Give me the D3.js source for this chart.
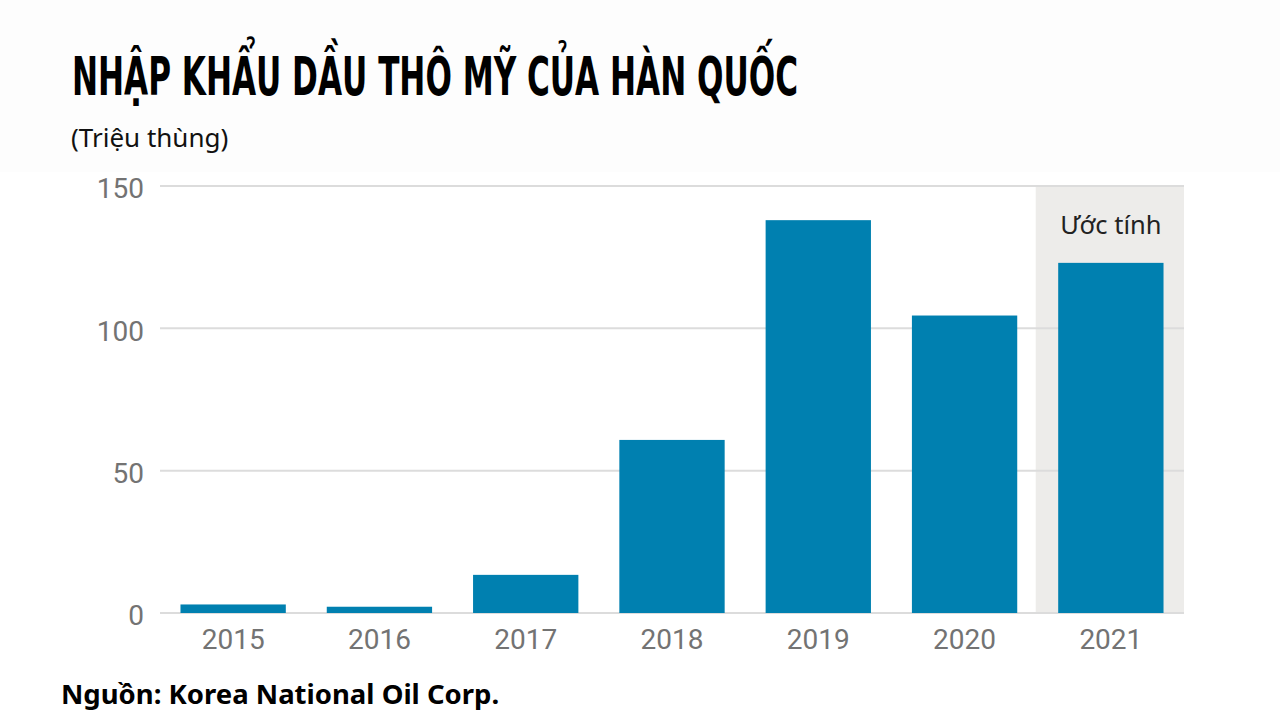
<!DOCTYPE html>
<html><head><meta charset="utf-8">
<script src="https://cdn.jsdelivr.net/npm/d3@7"></script>
<style>
html,body{margin:0;padding:0;background:#fff;}
svg{display:block;}
</style></head>
<body>
<svg id="chart" width="1280" height="720"></svg>
<script>
const years = ["2015","2016","2017","2018","2019","2020","2021"];
const values = [3, 2.2, 13.4, 60.8, 138, 104.5, 123];
const yTicks = [0, 50, 100, 150];
const estimateYear = "2021";
const titleText = "NHẬP KHẨU DẦU THÔ MỸ CỦA HÀN QUỐC";
const subtitleText = "(Triệu thùng)";
const estimateLabel = "Ước tính";
const sourceText = "Nguồn: Korea National Oil Corp.";

const svg = d3.select("#chart");
const W = 1280, H = 720;
const m = {left:160, right:96, top:186, bottom:107};
const x = d3.scaleBand().domain(years).range([m.left, W - m.right]).paddingInner(0.28).paddingOuter(0.14);
const y = d3.scaleLinear().domain([0,150]).range([H - m.bottom, m.top]);

// header background (very faint)
svg.append("rect").attr("x",0).attr("y",0).attr("width",W).attr("height",172).attr("fill","#fdfdfd");

// estimate shading
const step = x.step();
const shadeX = x(estimateYear) - x.paddingInner()*step/2 - 2;
svg.append("rect")
  .attr("x", shadeX)
  .attr("y", y(150))
  .attr("width", W - m.right - shadeX)
  .attr("height", y(0) - y(150))
  .attr("fill", "#edecea");

// gridlines
svg.append("g").selectAll("line").data(yTicks).join("line")
  .attr("x1", m.left).attr("x2", W - m.right)
  .attr("y1", d => y(d)).attr("y2", d => y(d))
  .attr("stroke", "#dcdcdc").attr("stroke-width", 2);

// y axis labels
const yAxis = d3.axisLeft(y).tickValues(yTicks).tickSize(0).tickPadding(16);
const gy = svg.append("g").attr("transform", `translate(${m.left},0)`).call(yAxis);
gy.select(".domain").remove();
gy.selectAll("text").attr("font-family","Roboto, sans-serif").attr("font-weight","400").attr("font-size","28px").attr("fill","#737373").attr("dy","0.42em");

// bars
svg.append("g").selectAll("rect").data(years).join("rect")
  .attr("x", d => x(d)).attr("width", x.bandwidth())
  .attr("y", (d,i) => y(values[i])).attr("height", (d,i) => y(0) - y(values[i]))
  .attr("fill", "#0080b0");

// x axis labels
const xAxis = d3.axisBottom(x).tickSize(0).tickPadding(16);
const gx = svg.append("g").attr("transform", `translate(0,${y(0)})`).call(xAxis);
gx.select(".domain").remove();
gx.selectAll("text").attr("font-family","Roboto, sans-serif").attr("font-weight","400").attr("font-size","28px").attr("fill","#737373");

// estimate label
svg.append("text").attr("x", x(estimateYear) + x.bandwidth()/2).attr("y", 234)
  .attr("text-anchor","middle").attr("font-family","'Noto Sans', sans-serif").attr("font-size","25.5px").attr("fill","#222")
  .text(estimateLabel);

// title
svg.append("text").attr("x", 72).attr("y", 95)
  .attr("font-family","'DejaVu Sans Condensed', 'DejaVu Sans', sans-serif").attr("font-weight","bold")
  .attr("font-size","54px").attr("fill","#000")
  .attr("textLength", 726).attr("lengthAdjust","spacingAndGlyphs")
  .text(titleText);

// subtitle
svg.append("text").attr("x", 71).attr("y", 147)
  .attr("font-family","'Noto Sans', sans-serif").attr("font-size","26px").attr("fill","#111")
  .text(subtitleText);

// source
svg.append("text").attr("x", 61).attr("y", 704)
  .attr("font-family","'Noto Sans', sans-serif").attr("font-weight","bold").attr("font-size","27.5px").attr("fill","#000")
  .text(sourceText);
</script>
</body></html>
